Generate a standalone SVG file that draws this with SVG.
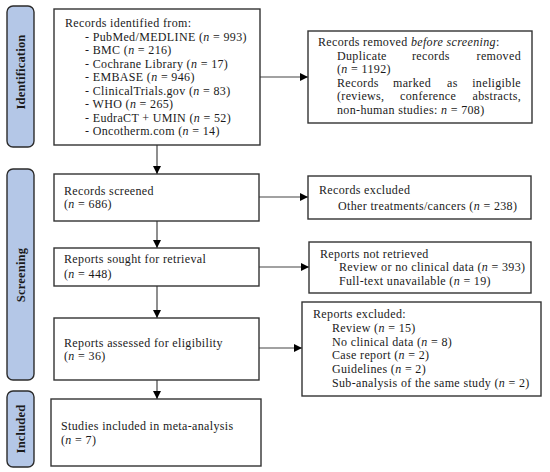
<svg xmlns="http://www.w3.org/2000/svg" width="550" height="472" viewBox="0 0 550 472">
<style>
text{font-family:"Liberation Serif","Times New Roman",serif;font-size:12px;letter-spacing:0.35px;fill:#1a1a1a}
.i{font-style:italic}
.e{text-anchor:end}
.box{fill:#fff;stroke:#333;stroke-width:1.4}
.phase{fill:#b4c7e7;stroke:#2b2b2b;stroke-width:1.4}
.pl{font-weight:bold;font-size:12.5px;letter-spacing:0.2px;text-anchor:middle;dominant-baseline:central}
.con{stroke:#444;stroke-width:1.2;fill:none;marker-end:url(#ah)}
</style>
<defs>
<marker id="ah" viewBox="0 0 10 10" refX="10" refY="5" markerWidth="8" markerHeight="8" markerUnits="userSpaceOnUse" orient="auto">
<path d="M0,0 L10,5 L0,10 z" fill="#000"/>
</marker>
</defs>
<rect width="550" height="472" fill="#fff"/>
<g id="phase-identification">
<rect class="phase" x="7" y="6" width="27" height="141" rx="6"/>
<text class="pl" transform="translate(21,72) rotate(-90)">Identification</text>
</g>
<g id="phase-screening">
<rect class="phase" x="7" y="169" width="27" height="211" rx="6"/>
<text class="pl" transform="translate(21,275) rotate(-90)">Screening</text>
</g>
<g id="phase-included">
<rect class="phase" x="7" y="391" width="27" height="76" rx="6"/>
<text class="pl" transform="translate(21,429) rotate(-90)">Included</text>
</g>
<g id="connectors">
<line class="con" x1="157" y1="145" x2="157" y2="174"/>
<line class="con" x1="260" y1="77" x2="308" y2="77"/>
<line class="con" x1="259" y1="197" x2="308" y2="197"/>
<line class="con" x1="157" y1="221" x2="157" y2="248"/>
<line class="con" x1="259" y1="267" x2="309" y2="267"/>
<line class="con" x1="157" y1="286" x2="157" y2="318"/>
<line class="con" x1="259" y1="348" x2="302" y2="348"/>
<line class="con" x1="157" y1="380" x2="157" y2="399"/>
</g>
<g id="records-identified">
<rect class="box" x="54" y="9" width="206" height="136"/>
<text><tspan x="65" y="27">Records identified from:</tspan><tspan x="85" y="40.5">- PubMed/MEDLINE (<tspan class="i">n</tspan> = 993)</tspan><tspan x="85" y="54">- BMC (<tspan class="i">n</tspan> = 216)</tspan><tspan x="85" y="67.5">- Cochrane Library (<tspan class="i">n</tspan> = 17)</tspan><tspan x="85" y="81">- EMBASE (<tspan class="i">n</tspan> = 946)</tspan><tspan x="85" y="94.5">- ClinicalTrials.gov (<tspan class="i">n</tspan> = 83)</tspan><tspan x="85" y="108">- WHO (<tspan class="i">n</tspan> = 265)</tspan><tspan x="85" y="121.5">- EudraCT + UMIN (<tspan class="i">n</tspan> = 52)</tspan><tspan x="85" y="135">- Oncotherm.com (<tspan class="i">n</tspan> = 14)</tspan></text>
</g>
<g id="records-removed">
<rect class="box" x="308" y="31" width="224" height="92"/>
<text><tspan x="318" y="46">Records removed <tspan class="i">before screening</tspan>:</tspan><tspan x="337" y="59.5">Duplicate</tspan><tspan x="412" y="59.5">records</tspan><tspan class="e" x="521" y="59.5">removed</tspan><tspan x="337" y="73">(<tspan class="i">n</tspan> = 1192)</tspan><tspan x="337" y="86.5">Records</tspan><tspan x="393" y="86.5">marked</tspan><tspan x="447" y="86.5">as</tspan><tspan class="e" x="521" y="86.5">ineligible</tspan><tspan x="337" y="100">(reviews,</tspan><tspan x="400" y="100">conference</tspan><tspan class="e" x="521" y="100">abstracts,</tspan><tspan x="337" y="113.5">non-human studies: <tspan class="i">n</tspan> = 708)</tspan></text>
</g>
<g id="records-screened">
<rect class="box" x="54" y="174" width="205" height="47"/>
<text><tspan x="64" y="194.5">Records screened</tspan><tspan x="64" y="208">(<tspan class="i">n</tspan> = 686)</tspan></text>
</g>
<g id="records-excluded">
<rect class="box" x="308" y="176" width="223" height="43"/>
<text><tspan x="319" y="194">Records excluded</tspan><tspan x="338" y="210">Other treatments/cancers (<tspan class="i">n</tspan> = 238)</tspan></text>
</g>
<g id="reports-sought">
<rect class="box" x="54" y="248" width="205" height="38"/>
<text><tspan x="64" y="263">Reports sought for retrieval</tspan><tspan x="64" y="278">(<tspan class="i">n</tspan> = 448)</tspan></text>
</g>
<g id="reports-not-retrieved">
<rect class="box" x="309" y="242" width="222" height="51"/>
<text><tspan x="320" y="257.5">Reports not retrieved</tspan><tspan x="339" y="271">Review or no clinical data (<tspan class="i">n</tspan> = 393)</tspan><tspan x="339" y="284.5">Full-text unavailable (<tspan class="i">n</tspan> = 19)</tspan></text>
</g>
<g id="reports-assessed">
<rect class="box" x="54" y="318" width="205" height="62"/>
<text><tspan x="64" y="346.5">Reports assessed for eligibility</tspan><tspan x="64" y="360">(<tspan class="i">n</tspan> = 36)</tspan></text>
</g>
<g id="reports-excluded">
<rect class="box" x="302" y="302" width="239" height="94"/>
<text><tspan x="313" y="318">Reports excluded:</tspan><tspan x="332" y="331.8">Review (<tspan class="i">n</tspan> = 15)</tspan><tspan x="332" y="345.6">No clinical data (<tspan class="i">n</tspan> = 8)</tspan><tspan x="332" y="359.4">Case report (<tspan class="i">n</tspan> = 2)</tspan><tspan x="332" y="373.2">Guidelines (<tspan class="i">n</tspan> = 2)</tspan><tspan x="332" y="387">Sub-analysis of the same study (<tspan class="i">n</tspan> = 2)</tspan></text>
</g>
<g id="studies-included">
<rect class="box" x="51" y="399" width="210" height="67"/>
<text><tspan x="61" y="430">Studies included in meta-analysis</tspan><tspan x="61" y="444">(<tspan class="i">n</tspan> = 7)</tspan></text>
</g>
</svg>
